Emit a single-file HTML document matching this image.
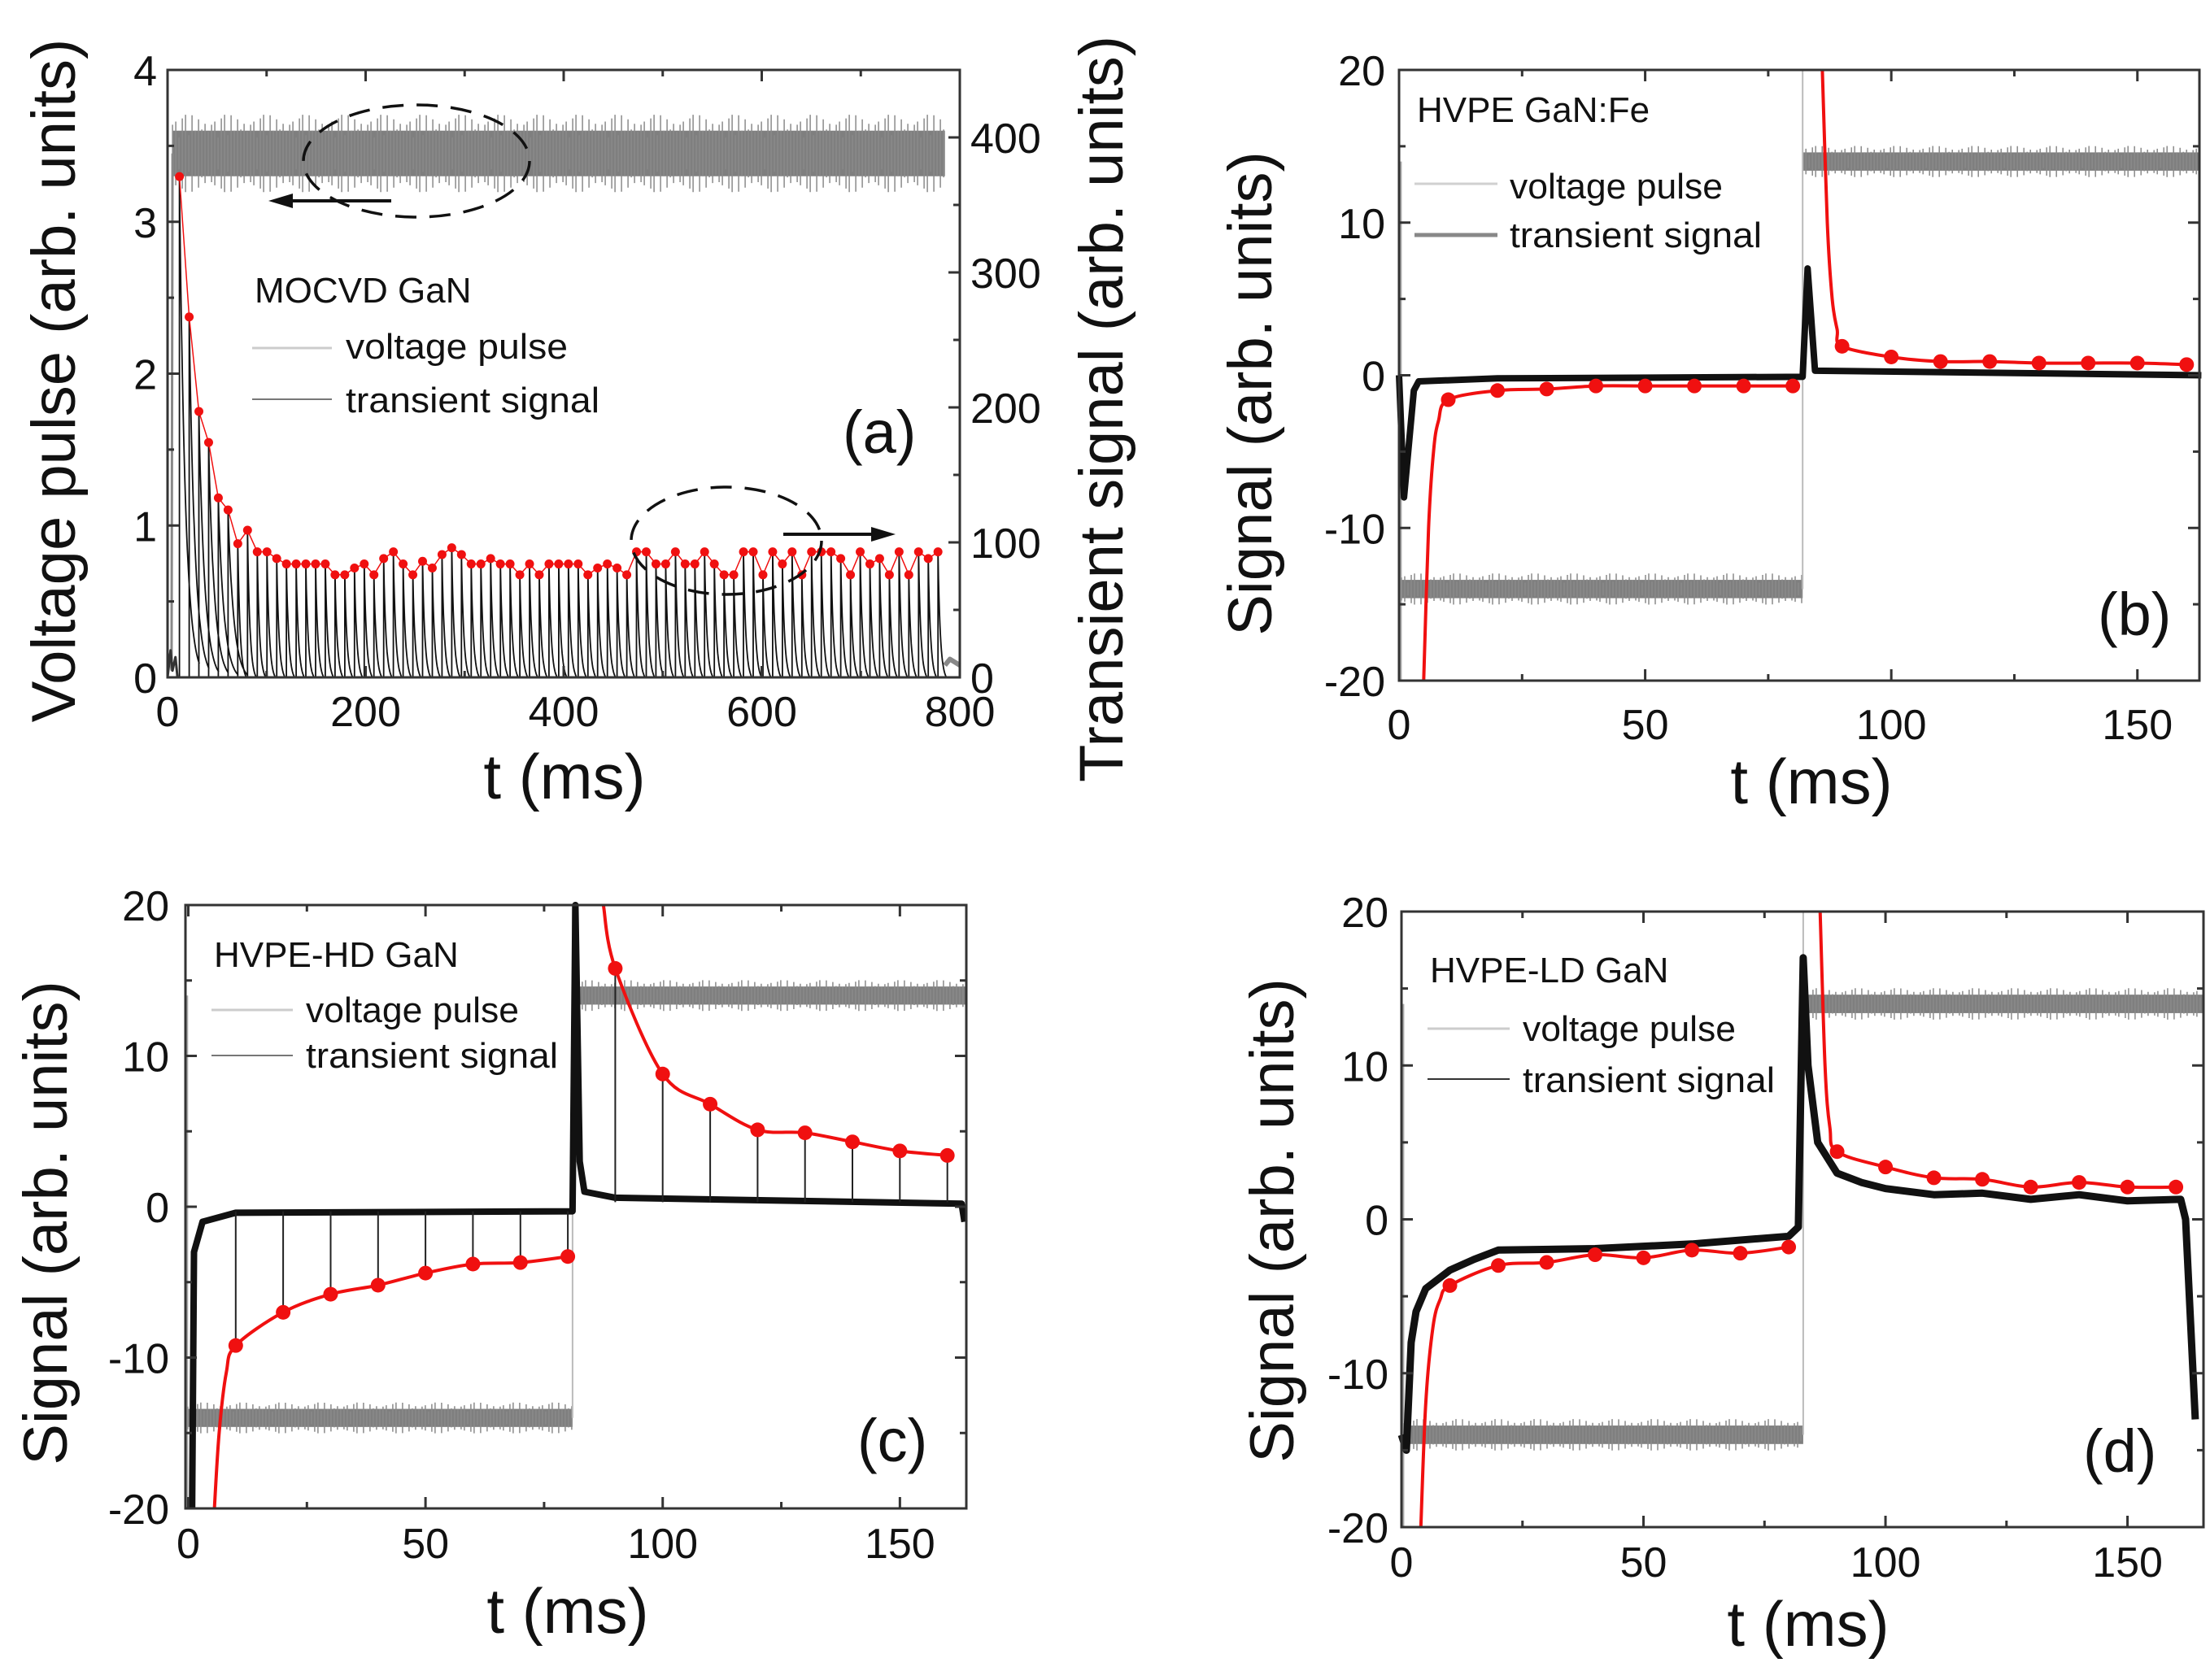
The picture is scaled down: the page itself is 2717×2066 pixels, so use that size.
<!DOCTYPE html>
<html><head><meta charset="utf-8"><style>
html,body{margin:0;padding:0;background:#fff}
svg{display:block}
text{font-family:"Liberation Sans",sans-serif;fill:#111}
</style></head><body>
<svg id="fig" width="2717" height="2066" viewBox="0 0 2717 2066" xmlns="http://www.w3.org/2000/svg">
<rect width="2717" height="2066" fill="#fff"/>
</svg>
<script>
// ---------- data ----------
const aRed = [371,267,197,174,133,124,99,109,93,93,88,84,84,84,84,84,76,76,81,84,76,88,93,84,76,86,81,91,96,91,84,84,88,84,84,76,84,76,84,84,84,84,76,81,84,81,76,93,93,84,84,93,84,84,93,84,76,76,93,93,76,93,84,93,76,93,93,93,88,76,93,84,88,76,93,76,93,88,93];
const aStartT = 12, aStepT = 9.82;
const aXTicks = [0,200,400,600,800];
const aYTicksL = [0,1,2,3,4];
const aYTicksR = [0,100,200,300,400];
const aVoltLevel = 3.45;

const redT = [10,20,30,40,50,60,70,80,90,100,110,120,130,140,150,160];
const bRed = [-1.6,-1.0,-0.9,-0.7,-0.7,-0.7,-0.7,-0.7,1.9,1.2,0.9,0.9,0.8,0.8,0.8,0.7];
const cRed = [-9.2,-7.0,-5.8,-5.2,-4.4,-3.8,-3.7,-3.3,15.8,8.8,6.8,5.1,4.9,4.3,3.7,3.4];
const dRed = [-4.3,-3.0,-2.8,-2.3,-2.5,-2.0,-2.2,-1.8,4.4,3.4,2.7,2.6,2.1,2.4,2.1,2.1];
const bHeadT=[5,6,7,8,10], bHeadV=[-20,-10,-5,-3,-1.6];
const bHead2T=[86,87,88,89,90], bHead2V=[20,10,5,3,1.9];
const cHeadT=[5.5,6.5,8,10], cHeadV=[-20,-15,-11,-9.2];
const cHead2T=[87.5,90], cHead2V=[20,15.8];
const dHeadT=[4,5,6.5,8,10], dHeadV=[-20,-12,-7,-5.2,-4.3];
const dHead2T=[86.5,87.5,88.5,90], dHead2V=[20,10,6,4.4];
const bBlkT=[0,1,3,4,20,82,83,84.5,163], bBlkV=[0,-8,-1,-0.4,-0.2,-0.1,7,0.3,0];
const cBlkT=[0.8,1.2,3,10,81,81.6,82.5,83.5,90,163,163.6], cBlkV=[-20,-3,-1,-0.4,-0.3,20,3,1,0.6,0.2,-1];
const dBlkT=[0,1,2,3,5,10,15,20,40,60,80,82,83,84,86,90,95,100,110,120,130,140,150,161,162,164], dBlkV=[-14,-15,-8,-6,-4.5,-3.3,-2.6,-2,-1.9,-1.6,-1.1,-0.5,17,10,5,3,2.4,2,1.6,1.7,1.3,1.6,1.2,1.3,0,-13];
const sigXTicks=[0,50,100,150];
const sigYTicks=[-20,-10,0,10,20];
const pulseLevel = 14;

// ---------- helpers ----------
const NS="http://www.w3.org/2000/svg";
const svg=document.getElementById('fig');
function mk(tag,attrs,parent){const e=document.createElementNS(NS,tag);for(const k in attrs)e.setAttribute(k,attrs[k]);(parent||svg).appendChild(e);return e;}
function scale(d0,d1,r0,r1){return v=>r0+(v-d0)/(d1-d0)*(r1-r0);}
function smoothPath(pts){
  let d='M'+pts[0][0].toFixed(1)+','+pts[0][1].toFixed(1);
  for(let i=0;i<pts.length-1;i++){
    const p0=pts[Math.max(0,i-1)],p1=pts[i],p2=pts[i+1],p3=pts[Math.min(pts.length-1,i+2)];
    const c1=[p1[0]+(p2[0]-p0[0])/6,p1[1]+(p2[1]-p0[1])/6];
    const c2=[p2[0]-(p3[0]-p1[0])/6,p2[1]-(p3[1]-p1[1])/6];
    d+=' C'+c1[0].toFixed(1)+','+c1[1].toFixed(1)+' '+c2[0].toFixed(1)+','+c2[1].toFixed(1)+' '+p2[0].toFixed(1)+','+p2[1].toFixed(1);
  }
  return d;
}
const jitter=[0.9,1.4,0.7,1.1,1.7,0.8,1.2,1.0,1.5,0.75,1.3,0.95];
function grayBand(g,sx,sy,t0,t1,lvl,half,name){
  const r=mk('rect',{x:sx(t0),y:sy(lvl+half),width:sx(t1)-sx(t0),height:sy(lvl-half)-sy(lvl+half),fill:'#7f7f7f'},g);
  
  
  let d='';let k=0;
  for(let x=sx(t0);x<sx(t1);x+=4){const j=jitter[k%jitter.length]*half*(k%3===0?1.4:1);k++;
    d+='M'+x.toFixed(1)+','+sy(lvl+j).toFixed(1)+'V'+sy(lvl-j).toFixed(1);}
  const p=mk('path',{d:d,stroke:'#8a8a8a','stroke-width':1.5,fill:'none'},g);
  
  
}
function frame(g,px0,px1,py0,py1,name){
  const r=mk('rect',{x:px0,y:py0,width:px1-px0,height:py1-py0,fill:'none',stroke:'#333','stroke-width':3},g);
  
  
}
function txt(g,x,y,s,size,anchor,name,extra){
  const a={x:x,y:y,'font-size':size,'text-anchor':anchor||'start'};
  if(extra)for(const k in extra)a[k]=extra[k];
  const t=mk('text',a,g);t.textContent=s;
  
  
  return t;
}
function redSeries(g,sx,sy,tArr,vArr,w,name){
  const pts=tArr.map((t,i)=>[sx(t),sy(vArr[i])]);
  const p=mk('path',{d:smoothPath(pts),stroke:'#f01010','stroke-width':w,fill:'none'},g);
  
  
}
function polyline(g,sx,sy,T,V,stroke,w,name){
  const p=mk('polyline',{points:T.map((t,i)=>sx(t).toFixed(1)+','+sy(V[i]).toFixed(1)).join(' '),stroke:stroke,'stroke-width':w,fill:'none','stroke-linejoin':'round'},g);
  
  
  return p;
}
function legend(g,lx0,lx1,ly1,ly2,tx,b0,b1,b2,title,sz,w1,w2,light,dark,darkW){
  txt(g,lx0+3,b0,title,sz,'start','legend-title');
  const l1=mk('line',{x1:lx0,x2:lx1,y1:ly1,y2:ly1,stroke:light,'stroke-width':3},g);
  
  
  txt(g,tx,b1,'voltage pulse',sz,'start','legend-voltage-pulse',{textLength:w1,lengthAdjust:'spacingAndGlyphs'});
  const l2=mk('line',{x1:lx0,x2:lx1,y1:ly2,y2:ly2,stroke:dark,'stroke-width':darkW},g);
  
  
  txt(g,tx,b2,'transient signal',sz,'start','legend-transient-signal',{textLength:w2,lengthAdjust:'spacingAndGlyphs'});
}

// ---------- panel (a) ----------
(function(){
  const g=mk('g',{});
  
  
  const px0=206,px1=1180,py0=86,py1=833;
  const sx=scale(0,800,px0,px1), syL=scale(0,4,py1,py0), syR=scale(0,450,py1,py0);
  grayBand(g,sx,syL,5,785,aVoltLevel,0.15,'voltage-pulse-trace');
  polyline(g,sx,syL,[0,2,4,5],[0.05,0.15,0.05,aVoltLevel],'#888',3,'voltage-start');
  polyline(g,sx,syL,[785,790,800],[0.08,0.12,0.08],'#888',6,'voltage-end');
  let d='';
  aRed.forEach((v,i)=>{const t=aStartT+i*aStepT;const tau=i<6?6:2.5;
    d+='M'+sx(t).toFixed(1)+','+syR(0).toFixed(1)+'L'+sx(t).toFixed(1)+','+syR(v).toFixed(1);
    for(let k=1;k<=40;k++){d+='L'+sx(t+k*0.5).toFixed(1)+','+syR(Math.max(0,v*Math.exp(-k*0.5/tau)-3)).toFixed(1);}
  });
  const bp=mk('path',{d:d,stroke:'#111','stroke-width':1.8,fill:'none'},g);
  
  
  polyline(g,sx,syR,[0,3,5,8,10,12],[0,20,5,15,0,0],'#333',3,'transient-start');
  const ts=aRed.map((v,i)=>aStartT+i*aStepT);
  const rp=mk('polyline',{points:ts.map((t,i)=>sx(t).toFixed(1)+','+syR(aRed[i]).toFixed(1)).join(' '),stroke:'#f01010','stroke-width':1.5,fill:'none'},g);
  
  
  ts.forEach((t,i)=>{const c=mk('circle',{cx:sx(t),cy:syR(aRed[i]),r:5.5,fill:'#f01010'},g);
    
    });
  frame(g,px0,px1,py0,py1,'plot-frame-a');
  let td='';
  [0,100,200,300,400,500,600,700,800].forEach(v=>{const x=sx(v);const L=v%200===0?14:8;td+='M'+x+','+py1+'v'+(-L)+'M'+x+','+py0+'v'+L;});
  [0,0.5,1,1.5,2,2.5,3,3.5,4].forEach(v=>{const y=syL(v);const L=v%1===0?14:8;td+='M'+px0+','+y+'h'+L;});
  [0,50,100,150,200,250,300,350,400,450].forEach(v=>{const y=syR(v);const L=v%100===0?14:8;td+='M'+px1+','+y+'h'+(-L);});
  const tk=mk('path',{d:td,stroke:'#333','stroke-width':3,fill:'none'},g);
  
  
  aXTicks.forEach(v=>txt(g,sx(v),893,String(v),52,'middle','x-tick-label'));
  aYTicksL.forEach(v=>txt(g,193,syL(v)+19,String(v),52,'end','y-tick-label-left'));
  aYTicksR.forEach(v=>txt(g,1193,syR(v)+19,String(v),52,'start','y-tick-label-right'));
  txt(g,694,982,'t (ms)',78,'middle','x-axis-title');
  txt(g,0,0,'Voltage pulse (arb. units)',76,'middle','y-axis-title-left',{transform:'translate(92,468) rotate(-90)'});
  txt(g,0,0,'Transient signal (arb. units)',76,'middle','y-axis-title-right',{transform:'translate(1380,503) rotate(-90)'});
  legend(g,310,408,428,491,425,372,441,507,'MOCVD GaN',44,273,312,'#ccc','#777',2);
  txt(g,1036,557,'(a)',74,'start','panel-label-a');
  [[512,198,139,69],[893,665,117,66]].forEach(e=>{const el=mk('ellipse',{cx:e[0],cy:e[1],rx:e[2],ry:e[3],fill:'none',stroke:'#111','stroke-width':3.5,'stroke-dasharray':'26 16'},g);
    
    });
  const a1=mk('path',{d:'M481,247H350',stroke:'#111','stroke-width':4,fill:'none'},g);
  
  
  const h1=mk('polygon',{points:'330,247 360,238 360,256',fill:'#111'},g);
  
  
  const a2=mk('path',{d:'M963,657H1080',stroke:'#111','stroke-width':4,fill:'none'},g);
  
  
  const h2=mk('polygon',{points:'1101,657 1071,648 1071,666',fill:'#111'},g);
  
  
})();

// ---------- panels b,c,d ----------
function sigPanel(o){
  const g=mk('g',{});
  
  
  const sx=scale(o.x0,o.x1,o.px0,o.px1), sy=scale(-20,20,o.py1,o.py0);
  polyline(g,sx,sy,[o.x0+0.4,o.x0+0.4],[-20,pulseLevel],'#aaa',2,'voltage-edge-start');
  grayBand(g,sx,sy,o.x0+0.5,o.jump,-pulseLevel,0.6,'voltage-pulse-low');
  grayBand(g,sx,sy,o.jump,o.x1,pulseLevel,0.6,'voltage-pulse-high');
  polyline(g,sx,sy,[o.jump,o.jump],[-pulseLevel,20],'#bbb',2,'voltage-edge');
  polyline(g,sx,sy,o.bT,o.bV,'#111',o.bw,'transient-signal-trace');
  if(o.spikes){
    let d='';
    redT.forEach((t,i)=>{const base=t<o.jump?-0.3:0.3;d+='M'+sx(t).toFixed(1)+','+sy(base).toFixed(1)+'V'+sy(o.red[i]).toFixed(1);});
    const p=mk('path',{d:d,stroke:'#222','stroke-width':2,fill:'none'},g);
    
    
  }
  const n=redT.length/2;
  redSeries(g,sx,sy,o.h1T.slice(0,-1).concat(redT.slice(0,n)),o.h1V.slice(0,-1).concat(o.red.slice(0,n)),4,'fit-low');
  redSeries(g,sx,sy,o.h2T.slice(0,-1).concat(redT.slice(n)),o.h2V.slice(0,-1).concat(o.red.slice(n)),4,'fit-high');
  redT.forEach((t,i)=>{const c=mk('circle',{cx:sx(t),cy:sy(o.red[i]),r:9,fill:'#f01010'},g);
    
    });
  frame(g,o.px0,o.px1,o.py0,o.py1,'plot-frame-'+o.id);
  let td='';
  [0,25,50,75,100,125,150].forEach(v=>{const x=sx(v);const L=v%50===0?14:8;td+='M'+x+','+o.py1+'v'+(-L)+'M'+x+','+o.py0+'v'+L;});
  [-20,-15,-10,-5,0,5,10,15,20].forEach(v=>{const y=sy(v);const L=v%10===0?14:8;td+='M'+o.px0+','+y+'h'+L+'M'+o.px1+','+y+'h'+(-L);});
  const tk=mk('path',{d:td,stroke:'#333','stroke-width':3,fill:'none'},g);
  
  
  sigXTicks.forEach(v=>txt(g,sx(v),o.xlb,String(v),52,'middle','x-tick-label'));
  sigYTicks.forEach(v=>txt(g,o.ylx,sy(v)+19,String(v),52,'end','y-tick-label'));
  txt(g,o.tx,o.tb,'t (ms)',78,'middle','x-axis-title');
  txt(g,0,0,'Signal (arb. units)',76,'middle','y-axis-title',{transform:'translate('+o.ytx+','+o.yty+') rotate(-90)'});
  legend(g,o.L[0],o.L[1],o.L[2],o.L[3],o.L[4],o.L[5],o.L[6],o.L[7],o.title,44,262,310,o.lc[0],o.lc[1],o.lc[2]);
  txt(g,o.lbx,o.lby,'('+o.id+')',74,'start','panel-label-'+o.id);
}
sigPanel({id:'b',x0:0,x1:162.6,px0:1720,px1:2704,py0:86,py1:837,jump:82,bT:bBlkT,bV:bBlkV,bw:8,red:bRed,h1T:bHeadT,h1V:bHeadV,h2T:bHead2T,h2V:bHead2V,spikes:false,
  xlb:909,ylx:1703,tx:2227,tb:988,ytx:1563,yty:484,L:[1739,1841,226,289,1856,150,244,304],title:'HVPE GaN:Fe',lc:['#d0d0d0','#888',5],lbx:2579,lby:781});
sigPanel({id:'c',x0:-0.6,x1:164,px0:228,px1:1188,py0:1113,py1:1855,jump:81,bT:cBlkT,bV:cBlkV,bw:8,red:cRed,h1T:cHeadT,h1V:cHeadV,h2T:cHead2T,h2V:cHead2V,spikes:true,
  xlb:1916,ylx:208,tx:698,tb:2008,ytx:82,yty:1504,L:[260,360,1242,1298,376,1189,1257,1313],title:'HVPE-HD GaN',lc:['#ccc','#777',2],lbx:1054,lby:1797});
sigPanel({id:'d',x0:0,x1:165.7,px0:1723,px1:2709,py0:1121,py1:1878,jump:83,bT:dBlkT,bV:dBlkV,bw:9,red:dRed,h1T:dHeadT,h1V:dHeadV,h2T:dHead2T,h2V:dHead2V,spikes:false,
  xlb:1939,ylx:1707,tx:2223,tb:2024,ytx:1590,yty:1501,L:[1755,1856,1265,1327,1872,1208,1280,1343],title:'HVPE-LD GaN',lc:['#ccc','#333',2],lbx:2561,lby:1810});
</script>
</body></html>
